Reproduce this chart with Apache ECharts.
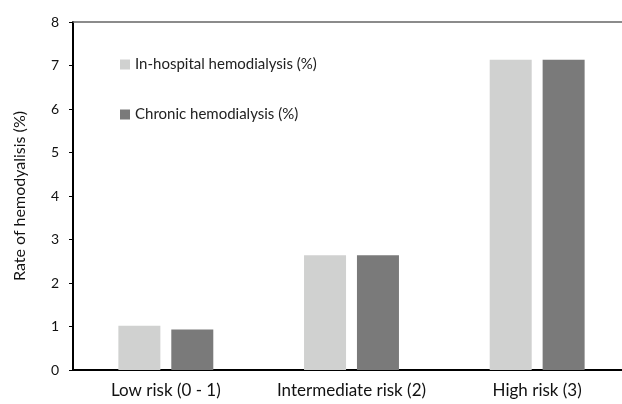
<!DOCTYPE html>
<html>
<head>
<meta charset="utf-8">
<script src="https://cdn.jsdelivr.net/npm/echarts@6/dist/echarts.min.js"></script>
<style>
  html, body { margin: 0; padding: 0; background: #fff; overflow: hidden; }
  /* plot runs past the right edge in the original, so the canvas is a bit wider than the window */
  #main { width: 630px; height: 404px; }
</style>
</head>
<body>
<div id="main"></div>
<script>
var categories = ['Low risk (0 - 1)', 'Intermediate risk (2)', 'High risk (3)'];
var inHospital = [1.02, 2.64, 7.13];
var chronic = [0.93, 2.64, 7.13];
var yTicks = [0, 1, 2, 3, 4, 5, 6, 7, 8];

var font = 'Lato, "Open Sans", sans-serif';
var myChart = echarts.init(document.getElementById('main'));

var option = {
    animation: false,
    backgroundColor: '#fff',
    grid: { left: 73, top: 22, right: 0, bottom: 34, containLabel: false },
    legend: {
        orient: 'vertical',
        left: 115,
        top: 52,
        itemGap: 35,
        itemWidth: 10,
        itemHeight: 10,
        icon: 'rect',
        textStyle: { fontFamily: font, fontSize: 15, color: '#222' },
        data: ['In-hospital hemodialysis (%)', 'Chronic hemodialysis (%)']
    },
    xAxis: [{
        type: 'category',
        data: categories,
        axisLine: { lineStyle: { color: '#000', width: 2 } },
        axisTick: { show: false },
        axisLabel: { interval: 0, fontFamily: font, fontSize: 17, color: '#111', margin: 12 }
    }, {
        type: 'category',
        position: 'top',
        data: categories,
        axisLine: { lineStyle: { color: '#666', width: 1.5 } },
        axisTick: { show: false },
        axisLabel: { show: false }
    }],
    yAxis: {
        type: 'value',
        min: yTicks[0],
        max: yTicks[yTicks.length - 1],
        interval: 1,
        name: 'Rate of hemodyalisis (%)',
        nameLocation: 'middle',
        nameGap: 45,
        nameTextStyle: { fontFamily: font, fontSize: 16, color: '#111' },
        axisLine: { show: true, lineStyle: { color: '#000', width: 2 } },
        axisTick: { show: true, inside: false, length: 4, lineStyle: { color: '#000' } },
        splitLine: { show: false },
        axisLabel: { fontFamily: font, fontSize: 14, color: '#111', margin: 14 }
    },
    series: [{
        name: 'In-hospital hemodialysis (%)',
        type: 'bar',
        data: inHospital,
        barWidth: 42,
        barGap: '26%',
        itemStyle: { color: '#d0d1d0' }
    }, {
        name: 'Chronic hemodialysis (%)',
        type: 'bar',
        data: chronic,
        barWidth: 42,
        barGap: '26%',
        itemStyle: { color: '#7a7a7a' }
    }]
};

myChart.setOption(option);
</script>
</body>
</html>
